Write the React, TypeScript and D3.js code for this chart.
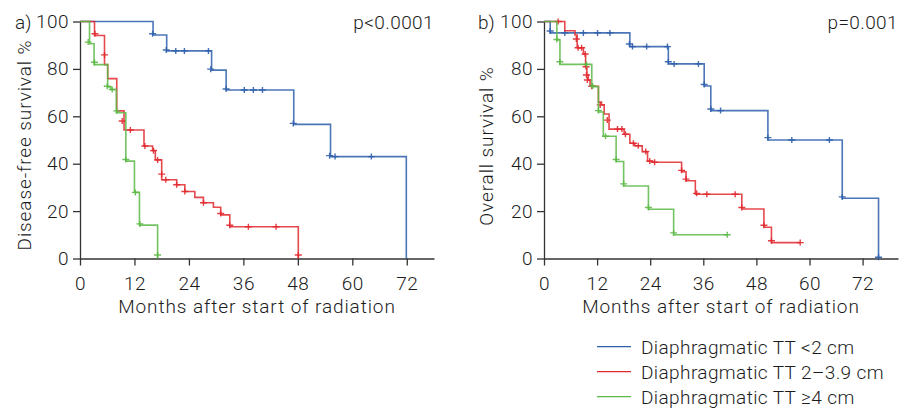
import React, { useEffect, useRef } from 'react';
import * as d3 from 'd3';

// tick labels and legend text
const monthTicks = [0, 12, 24, 36, 48, 60, 72];
const percentTicks = [0, 20, 40, 60, 80, 100];
const groupLabels = ['Diaphragmatic TT <2 cm', 'Diaphragmatic TT 2\u20133.9 cm', 'Diaphragmatic TT \u22654 cm'];

// a) disease-free survival: [month, survival %] where the curve steps to that value
const dfsSmallSteps = [[0, 100], [16.1, 94.3], [19.1, 87.6], [29.0, 79.5], [32.2, 71.1], [47.1, 56.6], [55.2, 43.0], [71.9, 0]];
const dfsSmallEnd = 71.9;
const dfsSmallCensored = [[16.0, 94.8], [19.0, 88.0], [21.1, 87.6], [23.0, 87.6], [28.3, 87.6], [28.8, 79.9], [32.2, 71.5], [36.2, 71.1], [38.2, 71.1], [40.2, 71.1], [47.0, 57.0], [55.0, 43.4], [56.2, 43.0], [64.2, 43.0]];

const dfsMidSteps = [[0, 100], [3.2, 94.1], [5.4, 81.8], [6.1, 75.9], [8.1, 62.3], [9.7, 54.2], [14.1, 47.5], [16.0, 45.5], [16.6, 41.6], [18.0, 33.2], [21.3, 31.1], [23.1, 28.3], [25.3, 25.8], [27.2, 23.5], [29.4, 21.6], [31.0, 18.4], [33.0, 13.4], [48.1, 0]];
const dfsMidEnd = 48.1;
const dfsMidCensored = [[3.3, 94.8], [5.4, 85.9], [9.3, 58.0], [11.1, 54.2], [14.3, 47.5], [16.2, 45.5], [17.1, 41.6], [18.0, 35.6], [18.9, 33.2], [21.3, 31.1], [23.1, 28.3], [27.2, 23.5], [31.0, 19.0], [33.0, 14.0], [37.1, 13.4], [43.2, 13.4], [48.1, 1.5]];

const dfsLargeSteps = [[0, 100], [2.1, 90.6], [3.1, 81.8], [6.1, 72.4], [6.8, 71.3], [8.0, 61.5], [10.1, 41.1], [12.0, 27.9], [13.1, 14.1], [17.1, 0]];
const dfsLargeEnd = 17.1;
const dfsLargeCensored = [[1.8, 91.3], [3.2, 82.8], [6.0, 72.7], [7.1, 71.3], [8.1, 62.3], [10.1, 41.8], [12.2, 27.9], [13.2, 14.6], [17.1, 1.5]];

// b) overall survival
const osSmallSteps = [[0, 100], [1.4, 95.2], [19.4, 89.4], [28.1, 82.1], [36.2, 72.8], [37.7, 62.4], [50.6, 50.0], [67.4, 25.4], [75.6, 0]];
const osSmallEnd = 75.6;
const osSmallCensored = [[1.4, 96.0], [4.7, 95.2], [8.9, 95.2], [12.1, 95.2], [14.9, 95.2], [19.3, 90.5], [20.0, 89.4], [23.2, 89.4], [27.9, 89.4], [28.1, 83.0], [29.4, 82.1], [34.9, 82.1], [36.2, 73.4], [37.7, 63.1], [39.9, 62.4], [50.6, 51.0], [56.0, 50.0], [64.5, 50.0], [67.4, 26.0], [75.6, 0.5]];

const osMidSteps = [[0, 100], [4.7, 96.1], [7.0, 94.3], [7.5, 88.9], [8.9, 86.3], [9.4, 80.9], [9.7, 77.4], [10.0, 75.3], [10.4, 72.7], [12.3, 66.0], [13.0, 64.8], [13.6, 61.0], [14.7, 54.6], [18.1, 52.4], [19.4, 48.6], [20.5, 47.6], [22.2, 45.1], [23.4, 41.1], [24.5, 40.6], [31.1, 36.6], [32.1, 32.8], [34.2, 27.1], [44.7, 20.9], [49.7, 13.2], [51.4, 6.7]];
const osMidEnd = 57.9;
const osMidCensored = [[3.2, 100], [7.3, 92.6], [7.7, 88.9], [8.5, 88.9], [9.3, 86.3], [9.5, 80.9], [9.6, 77.4], [9.8, 75.3], [10.8, 72.7], [12.7, 64.8], [14.3, 58.4], [16.6, 54.6], [17.6, 54.6], [18.4, 52.4], [20.2, 48.6], [21.3, 47.6], [23.0, 45.1], [23.9, 41.1], [25.0, 40.6], [31.1, 37.2], [32.1, 33.5], [34.5, 27.5], [36.8, 27.1], [43.2, 27.1], [44.7, 21.5], [49.7, 14.0], [51.4, 7.5], [57.9, 6.7]];

const osLargeSteps = [[0, 100], [2.9, 92.2], [3.6, 81.9], [10.8, 72.5], [12.3, 61.8], [13.4, 51.6], [16.3, 40.9], [18.0, 30.6], [23.6, 20.8], [29.3, 10.0]];
const osLargeEnd = 41.4;
const osLargeCensored = [[2.9, 92.4], [3.6, 83.0], [9.6, 81.9], [11.0, 72.8], [12.3, 62.4], [13.9, 51.6], [16.3, 41.8], [18.0, 31.5], [23.6, 21.5], [29.3, 10.8], [41.4, 10.0]];

const colors = ['#2d5eab', '#e0282e', '#5cb846'];
const FONT = 'Roboto, "Noto Sans", sans-serif';
const TEXT = '#1c1c1c';
const AXIS = '#333';

const panels = [
  {
    tag: 'a)', p: 'p<0.0001', yTitle: 'Disease-free survival %',
    x0: 80, x1: 434, maxMonth: 78, titleX: 31, titleY: 145, tagX: 15,
    curves: [
      { steps: dfsSmallSteps, end: dfsSmallEnd, cens: dfsSmallCensored },
      { steps: dfsMidSteps, end: dfsMidEnd, cens: dfsMidCensored },
      { steps: dfsLargeSteps, end: dfsLargeEnd, cens: dfsLargeCensored },
    ],
  },
  {
    tag: 'b)', p: 'p=0.001', yTitle: 'Overall survival %',
    x0: 544, x1: 898, maxMonth: 80, titleX: 493, titleY: 146, tagX: 478,
    curves: [
      { steps: osSmallSteps, end: osSmallEnd, cens: osSmallCensored },
      { steps: osMidSteps, end: osMidEnd, cens: osMidCensored },
      { steps: osLargeSteps, end: osLargeEnd, cens: osLargeCensored },
    ],
  },
];

export default function App() {
  const ref = useRef<SVGSVGElement>(null);

  useEffect(() => {
    const svg = d3.select(ref.current);
    svg.selectAll('*').remove();

    const yScale = d3.scaleLinear().domain([0, 100]).range([258.5, 21.5]);

    const label = (sel: any, spacing = 0) => sel
      .attr('fill', TEXT)
      .style('font-family', FONT)
      .style('font-size', '19px')
      .style('font-weight', 300)
      .style('letter-spacing', `${spacing}px`);

    panels.forEach(panel => {
      const xScale = d3.scaleLinear().domain([0, panel.maxMonth]).range([panel.x0, panel.x1]);
      const g = svg.append('g');

      // axes
      const xAxis = g.append('g')
        .attr('transform', `translate(0,${yScale(0)})`)
        .call(d3.axisBottom(xScale).tickValues(monthTicks).tickSize(7).tickSizeOuter(0).tickPadding(11));
      const yAxis = g.append('g')
        .attr('transform', `translate(${panel.x0},0)`)
        .call(d3.axisLeft(yScale).tickValues(percentTicks).tickSize(7).tickSizeOuter(0).tickPadding(4));
      [xAxis, yAxis].forEach(ax => {
        ax.selectAll('path, line').attr('stroke', AXIS).attr('stroke-width', 1.3);
        label(ax.selectAll('text'), 0.5);
      });

      label(g.append('text'), 0.9)
        .attr('x', (panel.x0 + panel.x1) / 2)
        .attr('y', 313)
        .attr('text-anchor', 'middle')
        .text('Months after start of radiation');

      label(g.append('text'), 0.9)
        .attr('transform', `translate(${panel.titleX},${panel.titleY}) rotate(-90)`)
        .attr('text-anchor', 'middle')
        .text(panel.yTitle);

      label(g.append('text'))
        .attr('x', panel.tagX).attr('y', 29)
        .text(panel.tag);

      label(g.append('text'), 0.4)
        .attr('x', panel.x1).attr('y', 29)
        .attr('text-anchor', 'end')
        .text(panel.p);

      const line = d3.line<number[]>()
        .x(d => xScale(d[0]))
        .y(d => yScale(d[1]))
        .curve(d3.curveStepAfter);

      panel.curves.forEach((c, i) => {
        const last = c.steps[c.steps.length - 1];
        const pts = [...c.steps, [c.end, last[1]]];
        g.append('path')
          .attr('d', line(pts))
          .attr('fill', 'none')
          .attr('stroke', colors[i])
          .attr('stroke-width', 1.6)
          .attr('stroke-opacity', 0.85);
        g.selectAll(null)
          .data(c.cens)
          .enter()
          .append('path')
          .attr('d', d => {
            const cx = xScale(d[0]);
            const cy = yScale(d[1]);
            return `M${cx - 3.5},${cy}H${cx + 3.5}M${cx},${cy - 3}V${cy + 3}`;
          })
          .attr('stroke', colors[i])
          .attr('stroke-width', 1.4)
          .attr('stroke-opacity', 0.9);
      });
    });

    // legend
    const legend = svg.append('g');
    groupLabels.forEach((text, i) => {
      const y = 346.7 + i * 25;
      legend.append('line')
        .attr('x1', 597).attr('x2', 631)
        .attr('y1', y).attr('y2', y)
        .attr('stroke', colors[i]).attr('stroke-width', 1.2);
      label(legend.append('text'), 0.4)
        .attr('x', 641).attr('y', y + 7)
        .text(text);
    });
  }, []);

  return (
    <svg ref={ref} width={902} height={408} style={{ position: 'absolute', left: 0, top: 0, background: '#fff' }} />
  );
}
